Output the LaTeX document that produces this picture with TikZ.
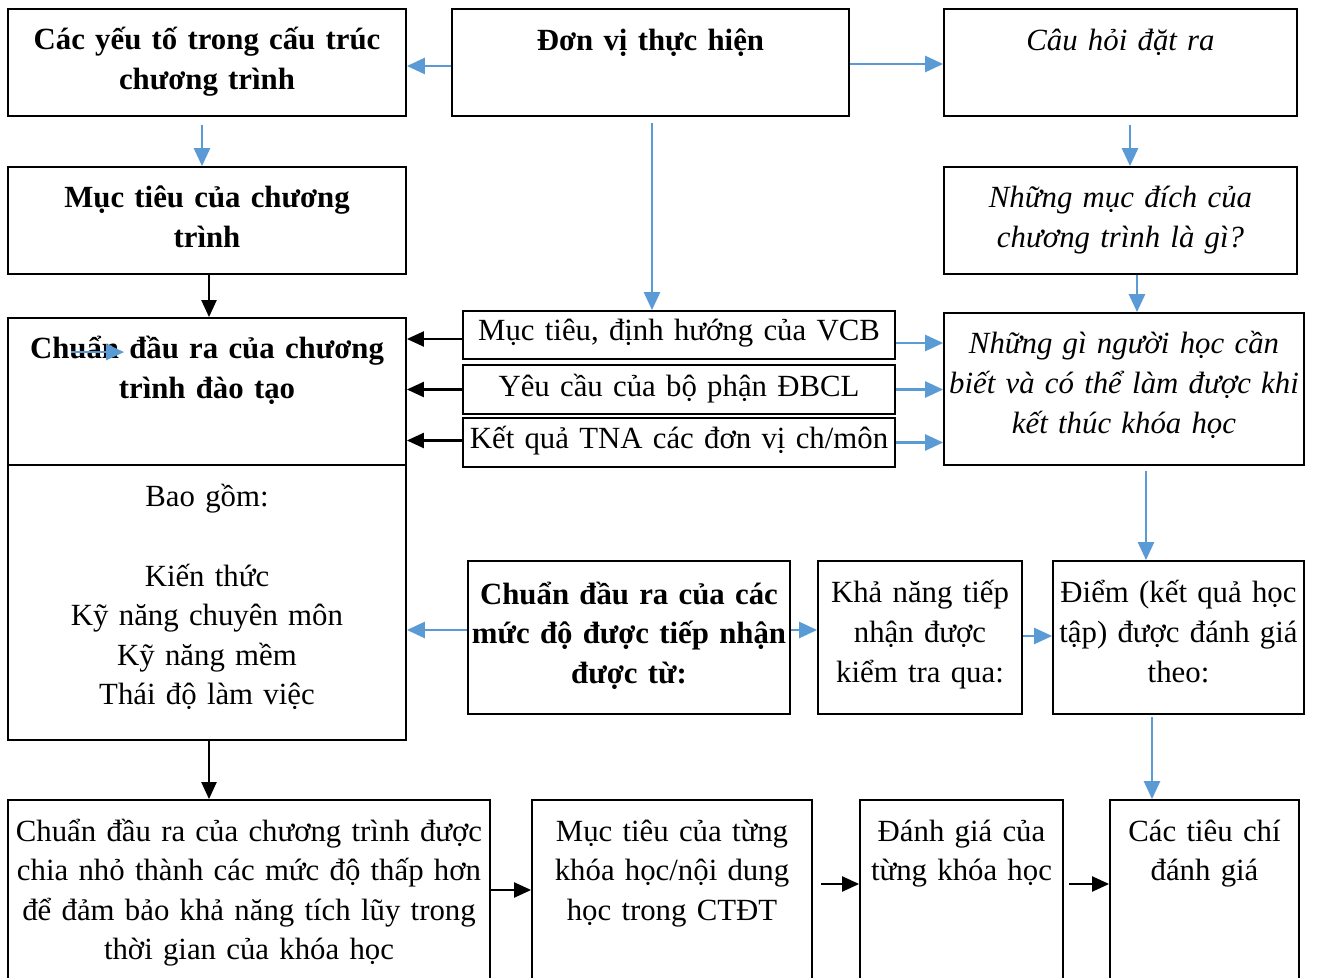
\documentclass[tikz,border=0pt]{standalone}
\usepackage{fontspec}
\setmainfont{Liberation Serif}
\usetikzlibrary{arrows.meta,calc,fit}
\definecolor{ablue}{HTML}{5B9BD5}
\begin{document}
\begin{tikzpicture}[x=0.5pt,y=-0.5pt,
  box/.style={draw=black,line width=0.9pt,inner sep=0pt},
  txt/.style={anchor=base,inner sep=0pt,text width=300pt,align=center,font=\fontsize{15.4}{19.8}\selectfont},
  btxt/.style={txt,font=\fontsize{15.4}{19.8}\selectfont\bfseries},
  itxt/.style={txt,font=\fontsize{15.4}{19.8}\selectfont\itshape},
  barrow/.style={draw=ablue,line width=1.3pt,-{Triangle[length=9pt,width=8pt]}},
  karrow/.style={draw=black,line width=1.1pt,-{Triangle[length=8.5pt,width=7.5pt]}}]
\useasboundingbox (0,0) rectangle (1318,978);
\clip (0,0) rectangle (1318,978);
\fill[white] (0,0) rectangle (1318,978);
% boxes
\node[box,fit={(8,9)(406,116)}] (A) {};
\node[box,fit={(452,9)(849,116)}] (B) {};
\node[box,fit={(944,9)(1297,116)}] (C) {};
\node[box,fit={(8,167)(406,274)}] (D) {};
\node[box,fit={(944,167)(1297,274)}] (E) {};
\node[box,fit={(8,318)(406,465)}] (F) {};
\node[box,fit={(8,465)(406,740)}] (G) {};
\node[box,fit={(463,311)(895,359)}] (H1) {};
\node[box,fit={(463,365)(895,414)}] (H2) {};
\node[box,fit={(463,418)(895,467)}] (H3) {};
\node[box,fit={(944,313)(1304,465)}] (I) {};
\node[box,fit={(468,561)(790,714)}] (J) {};
\node[box,fit={(818,561)(1022,714)}] (K) {};
\node[box,fit={(1053,561)(1304,714)}] (L) {};
\node[box,fit={(8,800)(490,995)}] (M) {};
\node[box,fit={(532,800)(812,995)}] (N) {};
\node[box,fit={(860,800)(1063,995)}] (O) {};
\node[box,fit={(1110,800)(1299,995)}] (P) {};
% texts
\node[btxt] (At) at (207,50) {Các yếu tố trong cấu trúc\\chương trình};
\node[btxt] (Bt) at (650.5,51) {Đơn vị thực hiện};
\node[itxt] (Ct) at (1120.5,51) {Câu hỏi đặt ra};
\node[btxt] (Dt) at (207,208) {Mục tiêu của chương\\trình};
\node[itxt] (Et) at (1120.5,208) {Những mục đích của\\chương trình là gì?};
\node[btxt] (Ft) at (207,359) {Chuẩn đầu ra của chương\\trình đào tạo};
\node[txt] (Gt) at (207,507) {Bao gồm:\\[19.8pt]Kiến thức\\Kỹ năng chuyên môn\\Kỹ năng mềm\\Thái độ làm việc};
\node[txt] (H1t) at (679,341) {Mục tiêu, định hướng của VCB};
\node[txt] (H2t) at (679,397) {Yêu cầu của bộ phận ĐBCL};
\node[txt] (H3t) at (679,449) {Kết quả TNA các đơn vị ch/môn};
\node[itxt] (It) at (1124,354) {Những gì người học cần\\biết và có thể làm được khi\\kết thúc khóa học};
\node[btxt] (Jt) at (629,604) {Chuẩn đầu ra của các\\mức độ được tiếp nhận\\được từ:};
\node[txt] (Kt) at (920,603) {Khả năng tiếp\\nhận được\\kiểm tra qua:};
\node[txt] (Lt) at (1178.5,603) {Điểm (kết quả học\\tập) được đánh giá\\theo:};
\node[txt] (Mt) at (249,841) {Chuẩn đầu ra của chương trình được\\chia nhỏ thành các mức độ thấp hơn\\để đảm bảo khả năng tích lũy trong\\thời gian của khóa học};
\node[txt] (Nt) at (672,841) {Mục tiêu của từng\\khóa học/nội dung\\học trong CTĐT};
\node[txt] (Ot) at (961.5,841) {Đánh giá của\\từng khóa học};
\node[txt] (Pt) at (1204.5,841) {Các tiêu chí\\đánh giá};
% blue arrows
\draw[barrow] ($(B.west)+(0,3.5)$) coordinate (b0) -- (b0 -| A.east);
\draw[barrow] ($(B.east)+(0,1.5)$) coordinate (b2) -- (b2 -| C.west);
\draw[barrow] ($(A.south)+(-5,8)$) coordinate (a1) -- (a1 |- D.north);
\draw[barrow] ($(B.south)+(1.5,6)$) coordinate (b1) -- (b1 |- H1.north);
\draw[barrow] ($(C.south)+(9.5,8)$) coordinate (c1) -- (c1 |- E.north);
\draw[barrow] ($(E.south)+(16.5,0)$) coordinate (e1) -- (e1 |- I.north);
\draw[barrow] ($(I.south)+(22,5)$) coordinate (i1) -- (i1 |- L.north);
\draw[barrow] ($(L.south)+(-26.5,2)$) coordinate (l1) -- (l1 |- P.north);
\draw[barrow] ($(H1.east)+(0,8)$) coordinate (h1e) -- (h1e -| I.west);
\draw[barrow] (H2.east) -- (H2.east -| I.west);
\draw[barrow] (H3.east) -- (H3.east -| I.west);
\draw[barrow] ($(J.west)+(0,-7.5)$) coordinate (j1) -- (j1 -| G.east);
\draw[barrow] ($(J.east)+(0,-7.5)$) coordinate (j2) -- (j2 -| K.west);
\draw[barrow] ($(K.east)+(0,-1.5)$) coordinate (k1) -- (k1 -| L.west);
% black arrows
\draw[karrow] ($(D.south)+(2,0)$) coordinate (d1) -- (d1 |- F.north);
\draw[karrow] ($(H1.west)+(0,4)$) coordinate (h1w) -- (h1w -| F.east);
\draw[karrow] (H2.west) -- (H2.west -| F.east);
\draw[karrow] ($(H3.west)+(0,-2)$) coordinate (h3w) -- (h3w -| F.east);
\draw[karrow] ($(G.south)+(2,0)$) coordinate (g1) -- (g1 |- M.north);
\draw[karrow] ($(M.east)+(0,-7.5)$) coordinate (m1) -- (m1 -| N.west);
\draw[karrow] ($(N.east)+(8,-13.5)$) coordinate (n1) -- (n1 -| O.west);
\draw[karrow] ($(O.east)+(5,-13.5)$) coordinate (o1) -- (o1 -| P.west);
% stray blue arrow over the title of F
\draw[barrow,line width=1.1pt] ($(F.north west)+(64,35)$) coordinate (f1) -- ($(F.north west)+(117,35)$) coordinate (f2);
\end{tikzpicture}
\end{document}
